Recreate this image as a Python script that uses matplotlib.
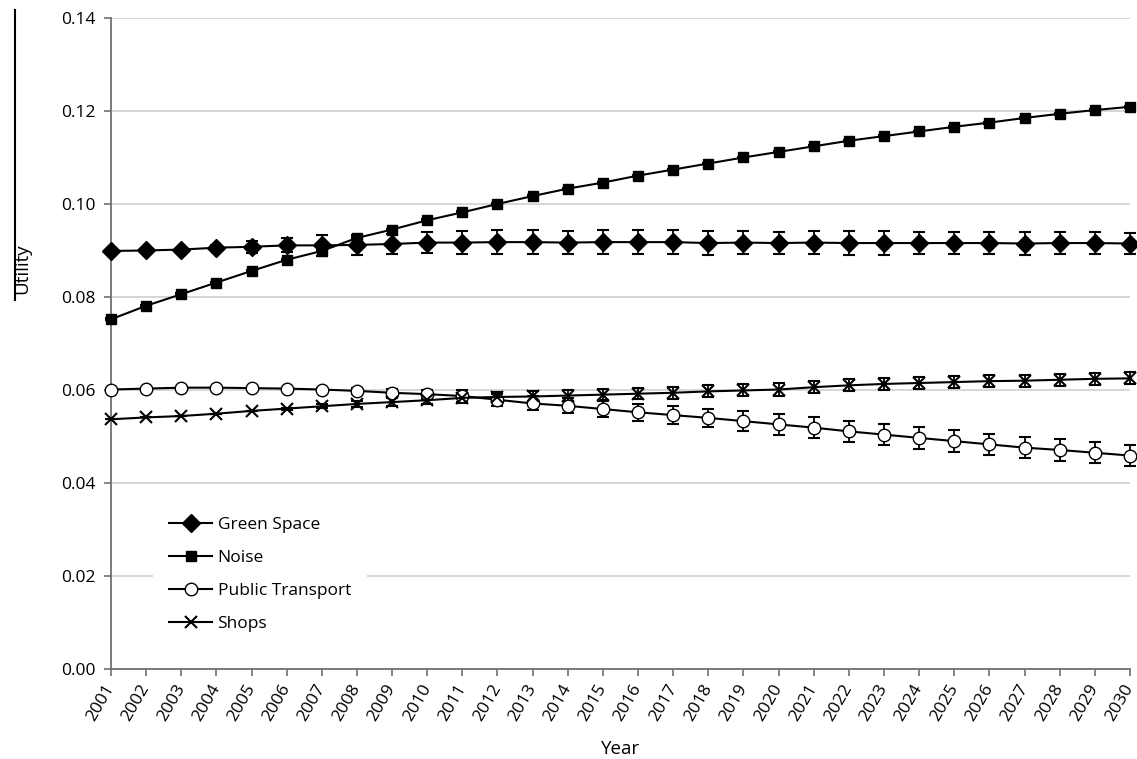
import numpy as np
import matplotlib
matplotlib.use("Agg")
import matplotlib.pyplot as plt
from matplotlib.lines import Line2D

plt.rcParams['font.family'] = ['Open Sans', 'DejaVu Sans']

years = list(range(2001, 2031))

green_space = [0.0899, 0.0900, 0.0902, 0.0906, 0.0908, 0.0911, 0.0911, 0.0912, 0.0914, 0.0917,
               0.0917, 0.0918, 0.0918, 0.0917, 0.0918, 0.0918, 0.0918, 0.0916, 0.0917, 0.0916,
               0.0917, 0.0916, 0.0916, 0.0916, 0.0916, 0.0916, 0.0915, 0.0916, 0.0916, 0.0915]
green_err = [0.0000, 0.0002, 0.0004, 0.0006, 0.0013, 0.0015, 0.0022, 0.0022, 0.0022, 0.0023,
             0.0024, 0.0025, 0.0025, 0.0025, 0.0025, 0.0025, 0.0025, 0.0025, 0.0025, 0.0024,
             0.0024, 0.0025, 0.0025, 0.0024, 0.0024, 0.0024, 0.0024, 0.0023, 0.0023, 0.0023]

noise = [0.0752, 0.0781, 0.0806, 0.0831, 0.0856, 0.0880, 0.0899, 0.0927, 0.0945, 0.0965,
         0.0982, 0.1000, 0.1017, 0.1033, 0.1046, 0.1061, 0.1074, 0.1087, 0.1100, 0.1112,
         0.1124, 0.1136, 0.1146, 0.1156, 0.1166, 0.1175, 0.1185, 0.1194, 0.1202, 0.1209]
noise_err = [0.0002] * 30

public_transport = [0.0601, 0.0603, 0.0605, 0.0605, 0.0604, 0.0603, 0.0601, 0.0598, 0.0594, 0.0591,
                    0.0587, 0.0579, 0.0571, 0.0566, 0.0559, 0.0552, 0.0546, 0.0540, 0.0533, 0.0526,
                    0.0519, 0.0511, 0.0504, 0.0497, 0.0490, 0.0483, 0.0476, 0.0471, 0.0465, 0.0459]
pt_err = [0.0000, 0.0000, 0.0000, 0.0000, 0.0000, 0.0000, 0.0003, 0.0006, 0.0008, 0.0010,
          0.0012, 0.0013, 0.0015, 0.0016, 0.0017, 0.0018, 0.0019, 0.0020, 0.0021, 0.0022,
          0.0022, 0.0022, 0.0022, 0.0023, 0.0023, 0.0023, 0.0023, 0.0023, 0.0023, 0.0023]

shops = [0.0537, 0.0541, 0.0544, 0.0549, 0.0555, 0.0560, 0.0565, 0.0570, 0.0574, 0.0578,
         0.0583, 0.0585, 0.0586, 0.0588, 0.0590, 0.0592, 0.0594, 0.0597, 0.0599, 0.0601,
         0.0606, 0.0610, 0.0613, 0.0615, 0.0617, 0.0619, 0.0620, 0.0622, 0.0624, 0.0625]
shops_err = [0.0000, 0.0000, 0.0000, 0.0000, 0.0000, 0.0002, 0.0004, 0.0006, 0.0008, 0.0009,
             0.0010, 0.0011, 0.0011, 0.0012, 0.0012, 0.0012, 0.0013, 0.0013, 0.0013, 0.0013,
             0.0013, 0.0013, 0.0013, 0.0013, 0.0013, 0.0013, 0.0013, 0.0013, 0.0013, 0.0013]

series = [
    ("Green Space", green_space, green_err, dict(marker='D', ms=9, mfc='black')),
    ("Noise", noise, noise_err, dict(marker='s', ms=7.5, mfc='black')),
    ("Public Transport", public_transport, pt_err, dict(marker='o', ms=9, mfc='white')),
    ("Shops", shops, shops_err, dict(marker='x', ms=8, mfc='black', mew=1.5)),
]

fig = plt.figure(figsize=(11.37, 7.59), dpi=100)
ax = fig.add_axes([0.0976, 0.1186, 0.8962, 0.8577])

handles = []
for name, vals, err, style in series:
    ax.errorbar(years, vals, yerr=err, color='black', lw=1.5, capsize=4, capthick=1.5,
                elinewidth=1.3, mec='black', clip_on=False, zorder=3, **style)
    handles.append(Line2D([], [], color='black', lw=1.5, mec='black', label=name, **style))

ax.set_xlim(2001, 2030)
ax.set_ylim(0, 0.14)
ax.set_xticks(years)
ax.set_xticklabels([str(y) for y in years], rotation=60, ha='right', va='center',
                   rotation_mode='anchor')
ax.set_yticks(np.arange(0, 0.141, 0.02))
ax.yaxis.set_major_formatter(matplotlib.ticker.FormatStrFormatter('%.2f'))
ax.tick_params(labelsize=12.5, length=5, width=1.2, color='#707070')
ax.tick_params(axis='y', pad=6)
ax.tick_params(axis='x', pad=7)

ax.grid(axis='y', color='#cfcfcf', lw=1.2)
ax.set_axisbelow(True)
for side in ['top', 'right']:
    ax.spines[side].set_visible(False)
for side in ['left', 'bottom']:
    ax.spines[side].set_color('#707070')
    ax.spines[side].set_linewidth(1.3)

ax.set_xlabel("Year", fontsize=13.5, labelpad=11)
ax.set_ylabel("Utility", fontsize=13.5)
ax.yaxis.set_label_coords(-0.078, 0.615)

leg = ax.legend(handles=handles, loc='center left', bbox_to_anchor=(0.033, 0.145),
                fontsize=12.5, frameon=True, fancybox=False, edgecolor='none',
                facecolor='white', framealpha=1, handlelength=2.5, handletextpad=0.3,
                labelspacing=0.97, borderpad=0.9)

# stray vertical rule at the left edge
fig.add_artist(Line2D([15 / 1137, 15 / 1137], [1 - 10 / 759, 1 - 300 / 759],
                      color='black', lw=1.5, transform=fig.transFigure))

fig.savefig("out.png", dpi=100)
